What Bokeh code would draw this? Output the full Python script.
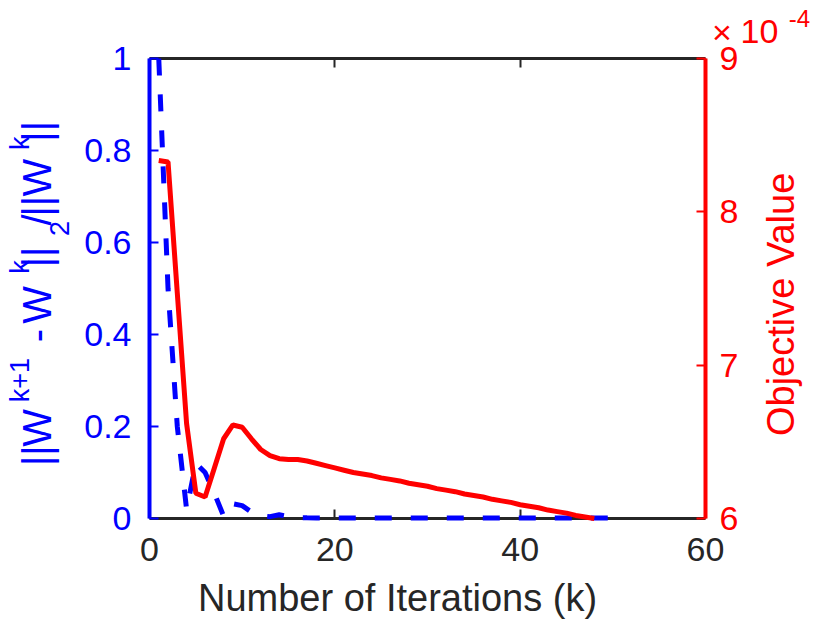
import math
from bokeh.plotting import figure
from bokeh.layouts import column, row
from bokeh.models import (Range1d, LinearAxis, FixedTicker, CustomJSTickFormatter,
                          ColumnDataSource)
from bokeh.core.properties import value
from bokeh.embed import file_html
from bokeh.resources import INLINE

# ---------------- data ----------------
iters_change = list(range(1, 51))
rel_change = [1.0, 0.5, 0.2, 0.02, 0.12, 0.10, 0.055, 0.005, 0.032, 0.028,
              0.014, 0.006, 0.004, 0.008, 0.004, 0.002, 0.0015, 0.0012, 0.001, 0.001,
              0.001, 0.001, 0.001, 0.001, 0.001, 0.001, 0.001, 0.001, 0.001, 0.001,
              0.001, 0.001, 0.001, 0.001, 0.001, 0.001, 0.001, 0.001, 0.001, 0.001,
              0.001, 0.001, 0.001, 0.001, 0.001, 0.001, 0.001, 0.001, 0.001, 0.001]

iters_obj = list(range(1, 49))
objective_e4 = [8.335, 8.325, 7.47, 6.62, 6.165, 6.14, 6.33, 6.52, 6.61, 6.595,
                6.52, 6.45, 6.41, 6.39, 6.385, 6.385, 6.375, 6.36, 6.345, 6.33,
                6.315, 6.30, 6.29, 6.28, 6.265, 6.255, 6.245, 6.23, 6.22, 6.21,
                6.195, 6.185, 6.175, 6.16, 6.15, 6.14, 6.125, 6.115, 6.105, 6.09,
                6.08, 6.07, 6.055, 6.045, 6.035, 6.02, 6.01, 6.0]
objective = [v * 1e-4 for v in objective_e4]

x_ticks = [0, 20, 40, 60]
left_ticks = [0, 0.2, 0.4, 0.6, 0.8, 1.0]
right_ticks = [6e-4, 7e-4, 8e-4, 9e-4]

BLUE = "#0000FF"
RED = "#FF0000"
DARK = "#262626"
FONT = "Liberation Sans"
MID = 0.3465    # em distance from alphabetic baseline to text middle
ROT_FIX = 0.6   # em correction along the reading direction for rotated text

# ---------------- page geometry (pixels) ----------------
W, H = 828, 621
FL, FR, FT, FB = 149, 705, 58, 518      # plot frame edges on the page
LEFT_W, RIGHT_X = 78, 748               # left strip width, right strip start
TOP_H, BOT_Y = 45, 576                  # top strip height, bottom strip start
MAIN_W = RIGHT_X - LEFT_W
MAIN_H = BOT_Y - TOP_H


def strip(width, height):
    f = figure(width=width, height=height, x_range=Range1d(0, width),
               y_range=Range1d(0, height), output_backend="svg",
               toolbar_location=None, x_axis_type=None, y_axis_type=None,
               min_border=0)
    f.grid.visible = False
    f.outline_line_color = None
    f.background_fill_color = "white"
    f.border_fill_color = "white"
    return f


def put_texts(f, ox, oy, items, color, rotated=False):
    # items: (text, a, b, size px)
    #   horizontal: a = centre x, b = baseline y
    #   rotated (reads bottom-to-top): a = baseline x, b = centre y
    xs, ys, texts, sizes = [], [], [], []
    for txt, a, b, size in items:
        if rotated:
            px, py = a - MID * size, b + ROT_FIX * size
        else:
            px, py = a, b - MID * size
        xs.append(px - ox)
        ys.append(f.height - (py - oy))
        texts.append(txt)
        sizes.append(f"{size}px")
    src = ColumnDataSource(dict(x=xs, y=ys, text=texts, size=sizes))
    f.text(x="x", y="y", text="text", source=src,
           angle=(math.pi / 2 if rotated else 0.0),
           text_font=value(FONT), text_font_size="size", text_color=color,
           text_align="center", text_baseline="middle")


# ---------------- main plot ----------------
p = figure(width=MAIN_W, height=MAIN_H, x_range=Range1d(0, 60), y_range=Range1d(0, 1),
           output_backend="svg", toolbar_location=None,
           min_border_left=FL - LEFT_W, min_border_right=RIGHT_X - FR,
           min_border_top=FT - TOP_H, min_border_bottom=BOT_Y - FB)
p.extra_y_ranges = {"obj": Range1d(6e-4, 9e-4)}
p.grid.visible = False
p.outline_line_color = None
p.background_fill_color = "white"
p.border_fill_color = "white"


def style_axis(ax, color, lw, size="34px", standoff=16):
    ax.axis_line_color = color
    ax.axis_line_width = lw
    ax.major_tick_in = 9
    ax.major_tick_out = 0
    ax.major_tick_line_color = color
    ax.major_tick_line_width = 2
    ax.minor_tick_line_color = None
    ax.major_label_text_font = FONT
    ax.major_label_text_font_size = size
    ax.major_label_text_color = color
    ax.major_label_standoff = standoff


xa = p.xaxis[0]
xa.ticker = FixedTicker(ticks=x_ticks)
style_axis(xa, DARK, 3, standoff=19)

ta = LinearAxis(ticker=FixedTicker(ticks=x_ticks))
style_axis(ta, DARK, 3, size="1px", standoff=0)
ta.major_label_text_color = None
p.add_layout(ta, "above")

ya = p.yaxis[0]
ya.ticker = FixedTicker(ticks=left_ticks)
ya.formatter = CustomJSTickFormatter(code="return tick.toFixed(1).replace(/\\.0$/, '');")
style_axis(ya, BLUE, 4, standoff=18)

ra = LinearAxis(y_range_name="obj", ticker=FixedTicker(ticks=right_ticks),
                formatter=CustomJSTickFormatter(code="return (tick*1e4).toFixed(0);"))
style_axis(ra, RED, 4, standoff=14)
p.add_layout(ra, "right")

p.line(iters_change, rel_change, line_color=BLUE, line_width=5, line_dash="17 19",
       level="overlay")
p.line(iters_obj, objective, y_range_name="obj", line_color=RED, line_width=5,
       level="overlay")

# ---------------- top strip: x10^-4 ----------------
top = strip(W, TOP_H)
put_texts(top, 0, 0, [("\u00d7", 721.5, 43, 34), ("10", 759, 43, 34),
                      ("-4", 799, 26, 24)], RED)

# ---------------- left strip: ||W^{k+1} - W^k||_2/||W^k|| ----------------
left = strip(LEFT_W, MAIN_H)
left_parts = [                      # (text, baseline x, centre y, size)
    ("||", 50, 479.5, 40),
    ("W", 50, 447.5, 40),
    ("k+1", 29, 400, 27),
    ("-", 50, 341, 40),
    ("W", 50, 305.5, 40),
    ("k", 29, 269.5, 27),
    ("||", 50, 250, 40),
    ("2", 68, 225, 27),
    ("/", 50, 207.5, 40),
    ("||", 50, 191.5, 40),
    ("W", 50, 158.5, 40),
    ("k", 29, 126.5, 27),
    ("||", 50, 105, 40),
]
put_texts(left, 0, TOP_H, left_parts, BLUE, rotated=True)

# ---------------- right strip: Objective Value ----------------
right = strip(W - RIGHT_X, MAIN_H)
put_texts(right, RIGHT_X, TOP_H, [("Objective Value", 794, 306, 38)], RED, rotated=True)

# ---------------- bottom strip: x axis title ----------------
bottom = strip(W, H - BOT_Y)
put_texts(bottom, 0, BOT_Y, [("Number of Iterations (k)", 397, 611, 38)], DARK)

layout = column(top, row(left, p, right), bottom)
open("out.html", "w").write(file_html(layout, INLINE))
